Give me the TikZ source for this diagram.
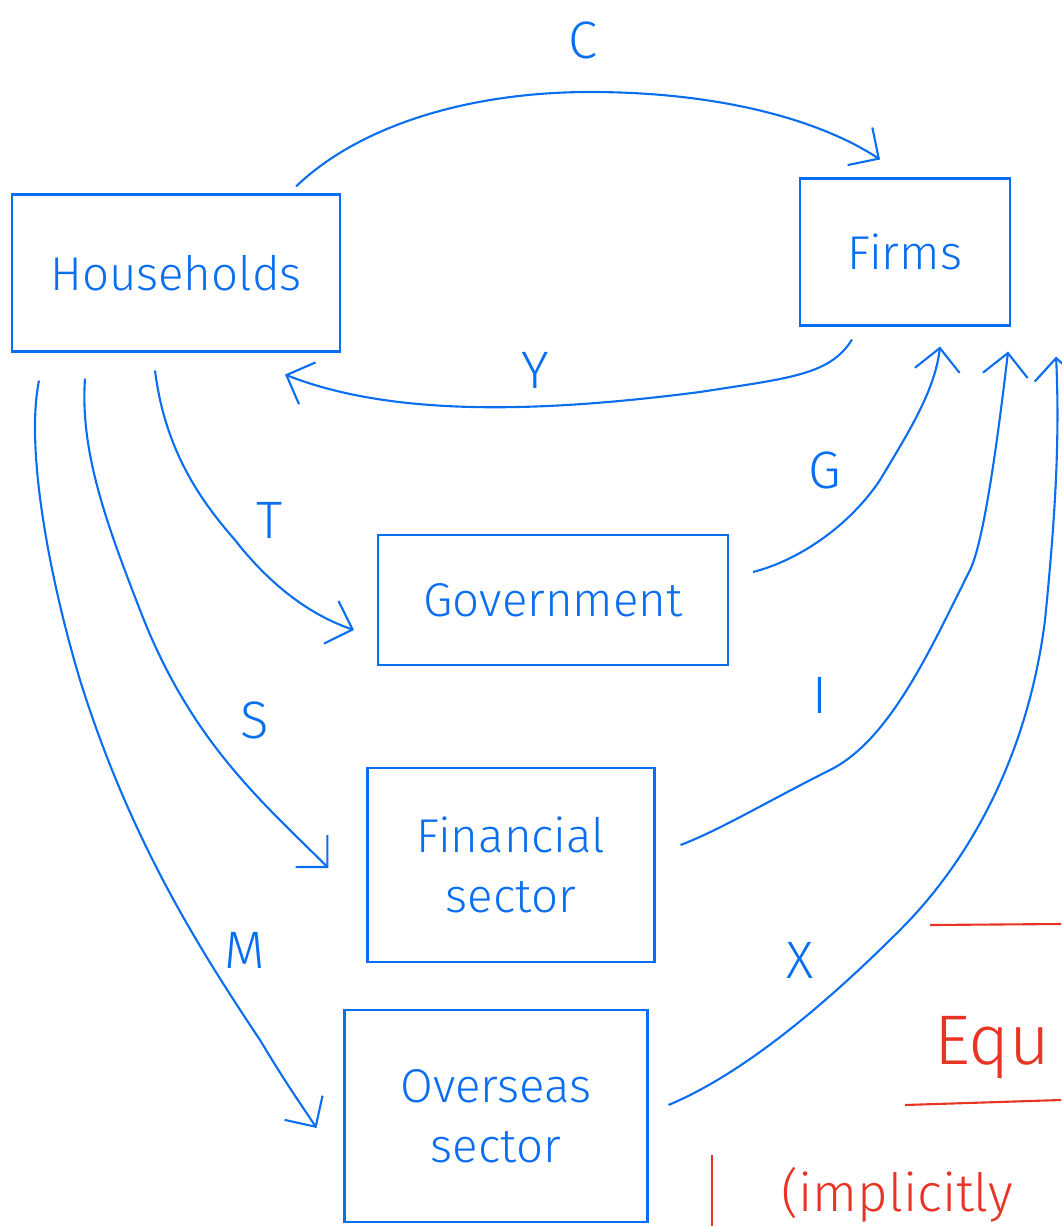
\documentclass[tikz,border=0pt]{standalone}
\usepackage{fontspec}
\setmainfont{Fira Sans}[UprightFont=* Light]
\usepackage{xcolor}
\usepackage{tikz}
\usetikzlibrary{arrows.meta, calc}
\definecolor{penblue}{RGB}{10,110,240}
\definecolor{penred}{RGB}{232,52,36}

\begin{document}
\begin{tikzpicture}[x=0.02cm, y=-0.02cm,
    sector/.style={rectangle, draw=penblue, line width=1.2pt, text=penblue,
                   align=center, font=\fontsize{27}{34}\selectfont},
    flow/.style={-{Straight Barb[length=4.5mm, width=9mm]}, draw=penblue, line width=1.2pt},
    lab/.style={text=penblue, font=\fontsize{30}{34}\selectfont},
    note/.style={text=penred, anchor=west}
]
\useasboundingbox (0,0) rectangle (1061,1226);

% sectors
\node[sector, minimum width=6.56cm, minimum height=3.14cm] (hh) at (176,273) {Households};
\node[sector, minimum width=4.2cm, minimum height=2.94cm] (fm) at (905,252) {Firms};
\node[sector, minimum width=7cm, minimum height=2.6cm] (gv) at (553,600) {Government};
\node[sector, minimum width=5.74cm, minimum height=3.88cm] (fn) at (511,865) {Financial\\sector};
\node[sector, minimum width=6.06cm, minimum height=4.24cm] (ov) at (496,1116) {Overseas\\sector};

% flows between sectors
\draw[flow] ($(hh.north east)+(-45,-7)$) .. controls (360,125) and (470,92) .. (590,92)
    .. controls (720,92) and (820,120) .. ($(fm.north)+(-25,-18)$);
\node[lab] (c) at (583,40) {C};

\draw[flow] ($(fm.south)+(-53,13)$) .. controls (830,375) and (790,378) .. (700,392)
    .. controls (560,410) and (400,420) .. ($(hh.south)+(109,22)$);
\node[lab] (y) at (535,370) {Y};

\draw[flow] ($(hh.south)+(-21,18)$) .. controls (165,450) and (200,500) .. (235,540)
    .. controls (270,585) and (310,615) .. ($(gv.west)+(-23,30)$);
\node[lab] (t) at (270,520) {T};

\draw[flow] ($(gv.east)+(24,-28)$) .. controls (800,560) and (850,525) .. (880,480)
    .. controls (910,430) and (935,390) .. ($(fm.south)+(35,20)$);
\node[lab] (g) at (825,470) {G};

\draw[flow] ($(hh.south)+(-91,26)$) .. controls (80,450) and (105,520) .. (140,610)
    .. controls (190,740) and (260,800) .. ($(fn.west)+(-38,3)$);
\node[lab] (s) at (255,720) {S};

\draw[flow] ($(fn.east)+(25,-20)$) .. controls (720,830) and (770,800) .. (830,770)
    .. controls (890,740) and (930,650) .. (970,570)
    .. controls (985,540) and (1000,420) .. ($(fm.south east)+(-3,25)$);
\node[lab] (i) at (820,695) {I};

\draw[flow] ($(hh.south west)+(28,28)$) .. controls (25,450) and (50,580) .. (80,680)
    .. controls (130,840) and (200,950) .. (260,1040)
    .. controls (290,1090) and (305,1110) .. ($(ov.west)+(-27,12)$);
\node[lab] (m) at (245,950) {M};

\draw[flow] ($(ov.east)+(20,-11)$) .. controls (740,1075) and (820,1010) .. (900,930)
    .. controls (980,850) and (1030,740) .. (1045,620)
    .. controls (1055,520) and (1060,440) .. ($(fm.south east)+(45,30)$);
\node[lab] (x) at (800,960) {X};

% red notes at the right edge
\draw[penred, line width=1.2pt] (930,925) -- (1061,924);
\node[note, font=\fontsize{40}{44}\selectfont] (equ) at (928,1048) {Equ};
\draw[penred, line width=1.2pt] (905,1105) -- (1061,1100);
\draw[penred, line width=1.2pt] (712,1155) -- (712,1226);
\node[note, font=\fontsize{30}{34}\selectfont] (impl) at (775,1195) {(implicitly};
\end{tikzpicture}
\end{document}
